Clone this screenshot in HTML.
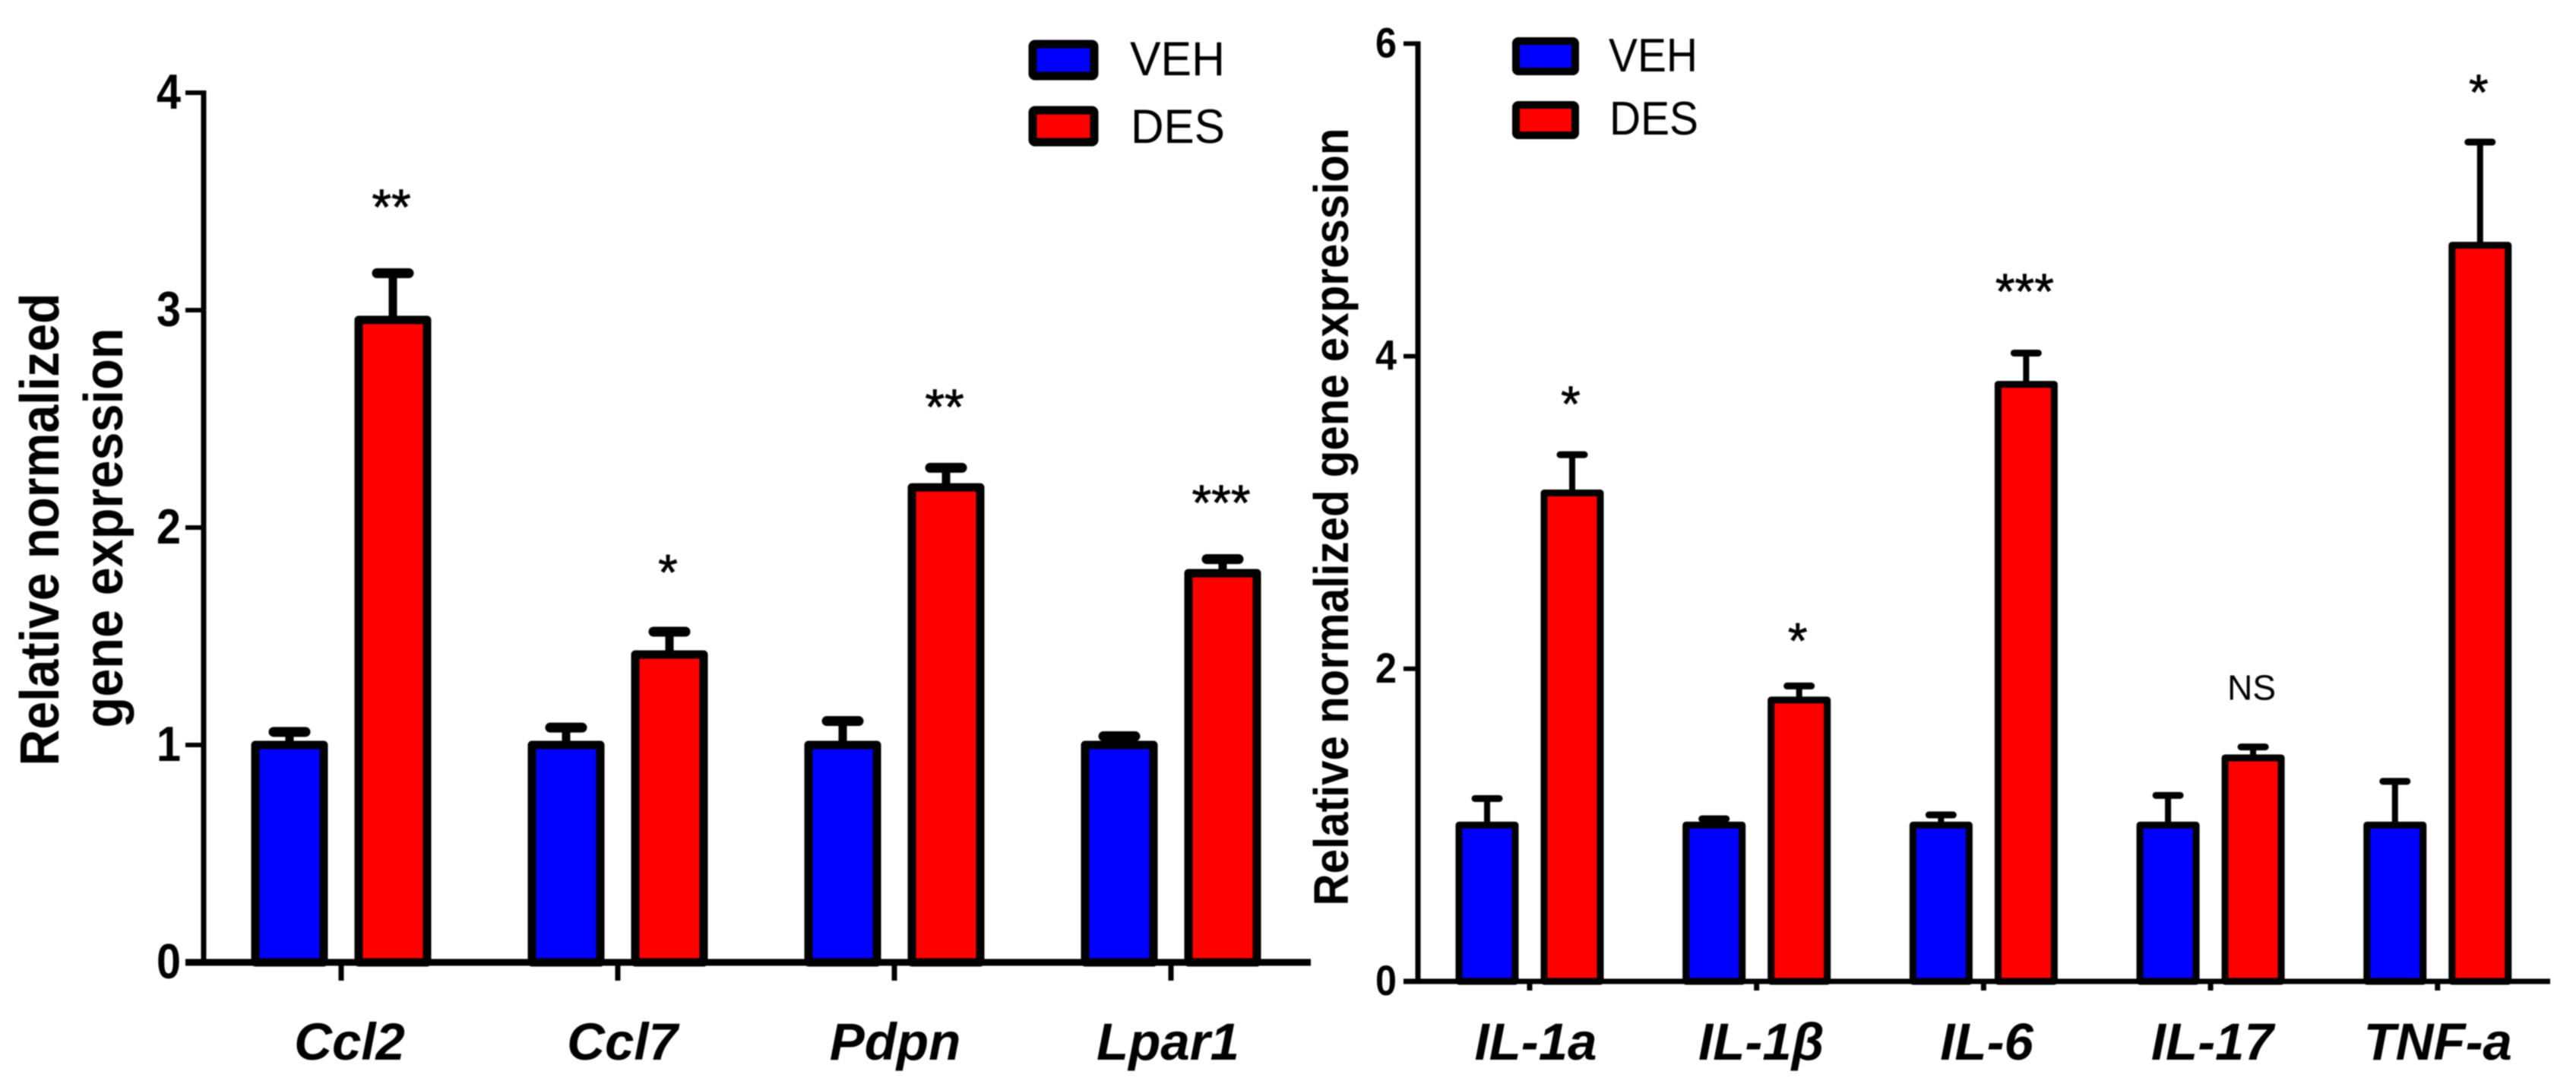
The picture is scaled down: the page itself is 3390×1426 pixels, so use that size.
<!DOCTYPE html>
<html lang="en">
<head>
<meta charset="utf-8">
<title>Relative normalized gene expression</title>
<style>
html,body{margin:0;padding:0;background:#fff;width:3390px;height:1426px;overflow:hidden}
svg{display:block;filter:blur(0.7px)}
text{font-family:"Liberation Sans",Arial,sans-serif;fill:#000}
</style>
</head>
<body>
<svg id="figure" xmlns="http://www.w3.org/2000/svg" width="3390" height="1426" viewBox="0 0 3390 1426">
  <rect x="0" y="0" width="3390" height="1426" fill="#fff"/>

  <g font-weight="700" font-size="72">
    <text transform="translate(77 696.5) rotate(-90)" text-anchor="middle" textLength="622" lengthAdjust="spacingAndGlyphs">Relative normalized</text>
    <text transform="translate(161 694.5) rotate(-90)" text-anchor="middle" textLength="526" lengthAdjust="spacingAndGlyphs">gene expression</text>
  </g>
  <text transform="translate(1774 680) rotate(-90)" text-anchor="middle" font-weight="700" font-size="64" textLength="1023" lengthAdjust="spacingAndGlyphs">Relative normalized gene expression</text>

  <g>
    <g>
      <rect x="1359" y="58" width="81" height="42" rx="3" fill="#0000ff" stroke="#000" stroke-width="11"/>
      <text x="1487" y="99" font-size="63" textLength="125" lengthAdjust="spacingAndGlyphs">VEH</text>
    </g>
    <g>
      <rect x="1359" y="145" width="81" height="42" rx="3" fill="#ff0000" stroke="#000" stroke-width="11"/>
      <text x="1488" y="188" font-size="63" textLength="124" lengthAdjust="spacingAndGlyphs">DES</text>
    </g>
  </g>
  <g>
    <g>
      <rect x="1995" y="54" width="78" height="40" rx="3" fill="#0000ff" stroke="#000" stroke-width="10"/>
      <text x="2117" y="94" font-size="62" textLength="117" lengthAdjust="spacingAndGlyphs">VEH</text>
    </g>
    <g>
      <rect x="1995" y="138" width="78" height="40" rx="3" fill="#ff0000" stroke="#000" stroke-width="10"/>
      <text x="2118" y="177" font-size="62" textLength="117" lengthAdjust="spacingAndGlyphs">DES</text>
    </g>
  </g>
  <g id="left-chart"></g>
  <g id="right-chart"></g>
</svg>
<script>
// Left panel data
const leftCategories = ["Ccl2", "Ccl7", "Pdpn", "Lpar1"];
const leftVeh = [1, 1, 1, 1];
const leftVehErr = [0.06, 0.08, 0.11, 0.04];
const leftDes = [2.955, 1.416, 2.185, 1.79];
const leftDesErr = [0.215, 0.105, 0.09, 0.065];
const leftSig = ["**", "*", "**", "***"];
const leftSigLevel = [3.5, 1.82, 2.58, 2.14];
const leftTicks = [0, 1, 2, 3, 4];

// Right panel data
const rightCategories = ["IL-1a", "IL-1β", "IL-6", "IL-17", "TNF-a"];
const rightVeh = [1, 1, 1, 1, 1];
const rightVehErr = [0.17, 0.04, 0.065, 0.19, 0.28];
const rightDes = [3.125, 1.8, 3.82, 1.43, 4.71];
const rightDesErr = [0.245, 0.09, 0.2, 0.07, 0.66];
const rightSig = ["*", "*", "***", "NS", "*"];
const rightSigLevel = [3.73, 2.215, 4.45, 1.865, 5.725];
const rightTicks = [0, 2, 4, 6];

const SVG_NS = "http://www.w3.org/2000/svg";

function make(parent, tag, attrs, content) {
  const node = document.createElementNS(SVG_NS, tag);
  for (const key in attrs) node.setAttribute(key, attrs[key]);
  if (content !== undefined) node.textContent = content;
  parent.appendChild(node);
  return node;
}

function drawChart(opts) {
  const root = document.getElementById(opts.rootId);
  const side = opts.side;
  const y = v => opts.y0 - v * opts.yUnit;
  const x = i => opts.x0 + i * opts.xStep;
  const catX = i => opts.catX0 + i * opts.catStep;
  let el;

  // error bars sit behind the bars
  opts.categories.forEach((category, i) => {
    [[opts.veh, opts.vehErr, -opts.offset, "veh"], [opts.des, opts.desErr, opts.offset, "des"]].forEach(s => {
      const cx = x(i) + s[2];
      const top = y(s[0][i] + s[1][i]);
      el = make(root, "line", {x1: cx, x2: cx, y1: y(s[0][i]), y2: top, stroke: "#000", "stroke-width": opts.whisker});
      
      
      el = make(root, "line", {x1: cx - opts.capHalf, x2: cx + opts.capHalf, y1: top, y2: top, stroke: "#000", "stroke-width": opts.capThick, "stroke-linecap": "round"});
      
      
    });
  });

  // bars
  opts.categories.forEach((category, i) => {
    [[opts.veh, -opts.offset, "#0000ff", "veh"], [opts.des, opts.offset, "#ff0000", "des"]].forEach(s => {
      const cx = x(i) + s[1];
      el = make(root, "rect", {x: cx - opts.barHalf, y: y(s[0][i]), width: opts.barHalf * 2, height: opts.y0 - y(s[0][i]), fill: s[2], stroke: "#000", "stroke-width": opts.barStroke, "stroke-linejoin": "round"});
      
      
    });
  });

  // y axis
  const topTick = opts.ticks[opts.ticks.length - 1];
  el = make(root, "line", {x1: opts.axisX, x2: opts.axisX, y1: y(topTick) - 3, y2: opts.y0, stroke: "#000", "stroke-width": 7});
  
  
  opts.ticks.forEach(t => {
    el = make(root, "line", {x1: opts.axisX - opts.yTickLen, x2: opts.axisX, y1: y(t), y2: y(t), stroke: "#000", "stroke-width": 6});
    
    
    el = make(root, "text", {x: opts.labelX, y: y(t) + opts.labelDy, "text-anchor": "end", "font-weight": 700, "font-size": opts.labelSize, textLength: opts.labelWidth, lengthAdjust: "spacingAndGlyphs"}, String(t));
    
    
  });

  // x axis
  el = make(root, "line", {x1: opts.axisX - opts.yTickLen, x2: opts.xEnd, y1: opts.y0, y2: opts.y0, stroke: "#000", "stroke-width": opts.baseStroke});
  
  

  opts.categories.forEach((category, i) => {
    el = make(root, "line", {x1: x(i), x2: x(i), y1: opts.y0, y2: opts.y0 + opts.xTickLen, stroke: "#000", "stroke-width": 7});
    
    
    el = make(root, "text", {x: catX(i), y: 1394, "text-anchor": "middle", "font-weight": 700, "font-style": "italic", "font-size": 69}, category);
    
    
  });

  // significance markers
  opts.categories.forEach((category, i) => {
    const isNs = opts.sig[i] === "NS";
    const size = isNs ? 46 : 66;
    const drop = isNs ? 13 : 30;
    el = make(root, "text", {x: x(i) + opts.offset - 2, y: y(opts.sigLevel[i]) + drop, "text-anchor": "middle", "font-size": size, stroke: isNs ? "none" : "#000", "stroke-width": 0.8}, opts.sig[i]);
    
    
  });
}

drawChart({
  rootId: "left-chart", side: "left",
  categories: leftCategories, veh: leftVeh, vehErr: leftVehErr, des: leftDes, desErr: leftDesErr,
  sig: leftSig, sigLevel: leftSigLevel, ticks: leftTicks,
  y0: 1266, yUnit: 286, x0: 449, xStep: 364, offset: 68, axisX: 268, xEnd: 1725,
  barHalf: 45, barStroke: 11, whisker: 11, capHalf: 21, capThick: 13,
  yTickLen: 24, xTickLen: 24, baseStroke: 9, labelX: 238, labelDy: 21, labelSize: 65, labelWidth: 32,
  catX0: 460, catStep: 359
});

drawChart({
  rootId: "right-chart", side: "right",
  categories: rightCategories, veh: rightVeh, vehErr: rightVehErr, des: rightDes, desErr: rightDesErr,
  sig: rightSig, sigLevel: rightSigLevel, ticks: rightTicks,
  y0: 1291, yUnit: 205.6, x0: 2013, xStep: 298.7, offset: 56, axisX: 1866, xEnd: 3356,
  barHalf: 37, barStroke: 9, whisker: 8, capHalf: 16, capThick: 9,
  yTickLen: 19, xTickLen: 12, baseStroke: 7, labelX: 1838, labelDy: 18, labelSize: 56, labelWidth: 28,
  catX0: 2021, catStep: 296.8
});
</script>
</body>
</html>
